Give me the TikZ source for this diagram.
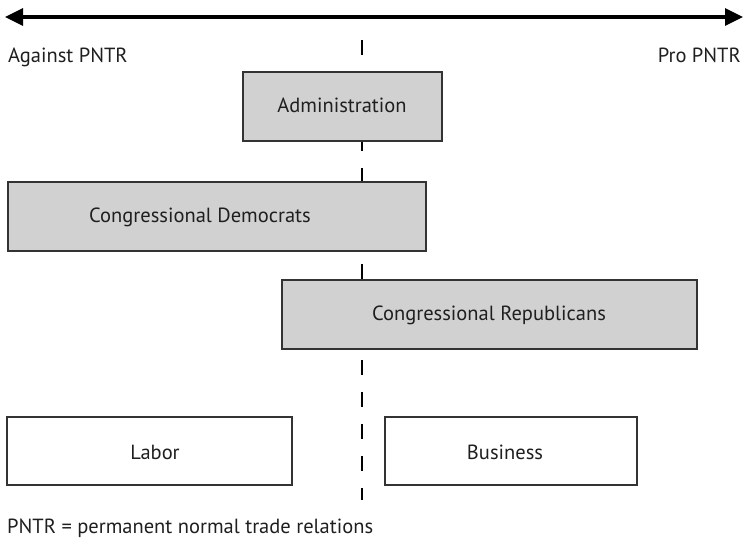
\documentclass[tikz,border=0pt]{standalone}
\usepackage{fontspec}
\setmainfont{PT Sans}
\usetikzlibrary{arrows.meta}
\begin{document}
\begin{tikzpicture}[x=1pt,y=-1pt,
  every node/.style={font=\fontsize{20.5}{24}\selectfont, text=black!88},
  actor/.style={draw=black!80, line width=1.3pt, fill=black!18, inner sep=0pt},
  group/.style={draw=black!80, line width=1.3pt, fill=white, inner sep=0pt},
  label/.style={inner sep=0pt, anchor=base west}]
  \useasboundingbox (0,0) rectangle (748,538);
  % spectrum axis
  \coordinate (axL) at (5,17);
  \coordinate (axR) at (743,17);
  \draw[line width=3.2pt, {Triangle[length=18pt,width=17pt]}-{Triangle[length=18pt,width=17pt]}] (axL) -- (axR);
  \node[label] (against) at (8,62) {Against PNTR};
  \node[label, anchor=base east] (pro) at (741,62) {Pro PNTR};
  % neutral divider
  \coordinate (divT) at (362,40);
  \coordinate (divB) at (362,500);
  \draw[line width=2.6pt, dash pattern=on 15pt off 17pt] (divT) -- (divB);
  % positions of the actors
  \draw[actor] (243,72) rectangle (442,141);
  \node (admin) at (342,105) {Administration};
  \draw[actor] (8,182) rectangle (426,251);
  \node (dems) at (200,217) {Congressional Democrats};
  \draw[actor] (282,280) rectangle (697,349);
  \node (reps) at (489,315) {Congressional Republicans};
  \draw[group] (7,417) rectangle (292,485);
  \node (labor) at (155,452) {Labor};
  \draw[group] (385,417) rectangle (637,485);
  \node (business) at (505,452) {Business};
  \node[label] (note) at (7,533) {PNTR = permanent normal trade relations};
\end{tikzpicture}
\end{document}
